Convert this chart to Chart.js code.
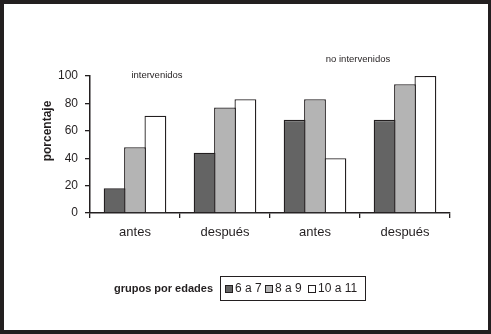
<!DOCTYPE html>
<html>
<head>
<meta charset="utf-8">
<script src="https://cdn.jsdelivr.net/npm/chart.js@4/dist/chart.umd.min.js"></script>
<style>
  html, body { margin: 0; padding: 0; background: #fff; }
  #wrap { position: relative; width: 491px; height: 334px; }
</style>
</head>
<body>
<div id="wrap"><canvas id="myChart" width="491" height="334"></canvas></div>
<script>
// Datos del gráfico
const categorias = ['antes', 'después', 'antes', 'después'];
const grupos = ['6 a 7', '8 a 9', '10 a 11'];
const edad6a7 = [18, 44, 68, 68];
const edad8a9 = [48, 77, 83, 94];
const edad10a11 = [71, 83, 40, 100];
const ticksY = [0, 20, 40, 60, 80, 100];

const tinta = '#231f20';
const coloresGrupo = ['#646464', '#b4b4b4', '#ffffff'];
const fuente = '"Liberation Sans", Arial, sans-serif';

// Marco, títulos y leyenda dibujados a mano
const extras = {
  id: 'extras',
  beforeDraw(chart) {
    const c = chart.ctx;
    c.save();
    c.fillStyle = '#fff';
    c.fillRect(0, 0, chart.width, chart.height);
    c.fillStyle = tinta;
    c.fillRect(0, 0, 491, 4);
    c.fillRect(0, 0, 4, 334);
    c.fillRect(488, 0, 3, 334);
    c.fillRect(0, 330, 491, 4);
    c.restore();
  },
  afterDraw(chart) {
    const c = chart.ctx;
    c.save();
    c.fillStyle = tinta;

    // título eje y
    c.save();
    c.translate(48, 131);
    c.rotate(-Math.PI / 2);
    c.font = 'bold 12px ' + fuente;
    c.textAlign = 'center';
    c.textBaseline = 'middle';
    c.fillText('porcentaje', 0, 0);
    c.restore();

    // rótulos de grupo
    c.font = '9.5px ' + fuente;
    c.textAlign = 'center';
    c.textBaseline = 'middle';
    c.fillText('intervenidos', 157, 75);
    c.fillText('no intervenidos', 358, 59);

    // leyenda
    c.font = 'bold 11px ' + fuente;
    c.textAlign = 'right';
    c.fillText('grupos por edades', 213, 289);
    c.strokeStyle = tinta;
    c.lineWidth = 1;
    c.strokeRect(220.5, 276.5, 145, 24);
    c.font = '12px ' + fuente;
    c.textAlign = 'left';
    const xs = [225, 265, 308];
    grupos.forEach((g, i) => {
      c.fillStyle = coloresGrupo[i];
      c.fillRect(xs[i], 285, 8, 8);
      c.strokeRect(xs[i] + 0.5, 285.5, 7, 7);
      c.fillStyle = tinta;
      c.fillText(g, xs[i] + 10, 289);
    });
    c.restore();
  }
};

const ctx = document.getElementById('myChart').getContext('2d');
const chart = new Chart(ctx, {
  type: 'bar',
  data: {
    labels: categorias,
    datasets: [edad6a7, edad8a9, edad10a11].map((serie, i) => ({
      label: grupos[i],
      data: serie,
      backgroundColor: coloresGrupo[i],
      borderColor: tinta,
      borderWidth: 1.3,
      categoryPercentage: 0.68,
      barPercentage: 1.07
    }))
  },
  plugins: [extras],
  options: {
    responsive: false,
    animation: false,
    layout: { padding: { left: 0, right: 41, top: 76, bottom: 81 } },
    plugins: {
      legend: { display: false },
      tooltip: { enabled: false }
    },
    scales: {
      x: {
        grid: { display: true, drawOnChartArea: false, drawTicks: true, tickLength: 5, color: tinta, lineWidth: 1.3, offset: true },
        border: { display: true, color: tinta, width: 1.5 },
        ticks: { color: tinta, font: { family: fuente, size: 13 }, padding: 7, maxRotation: 0 },
        afterFit: scale => { scale.height = 40; }
      },
      y: {
        min: 0,
        max: 100,
        afterBuildTicks: scale => { scale.ticks = ticksY.map(v => ({ value: v })); },
        grid: { display: true, drawOnChartArea: false, drawTicks: true, tickLength: 5, color: tinta, lineWidth: 1.3 },
        border: { display: true, color: tinta, width: 1.5 },
        ticks: { color: tinta, font: { family: fuente, size: 12 }, padding: 7 },
        afterFit: scale => { scale.width = 90; }
      }
    }
  }
});
</script>
</body>
</html>
